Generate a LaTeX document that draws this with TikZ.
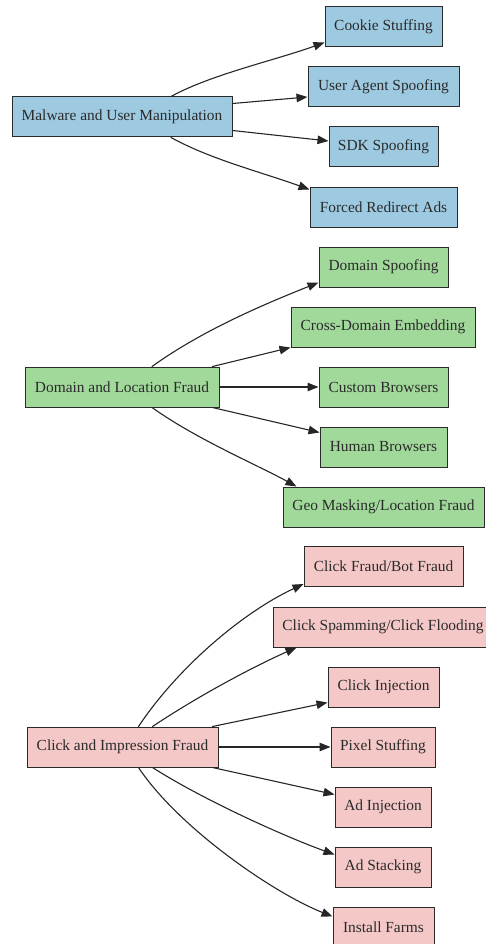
\documentclass[tikz,border=0pt]{standalone}
\usepackage{fontspec}
\setmainfont{Liberation Serif}
\usepackage{xcolor}
\usetikzlibrary{arrows.meta}
\tikzset{
  fraudarrow/.style={-{Triangle[length=11pt,width=8.5pt]}, line width=1.1pt,
    draw=black!85, line cap=round},
}
\definecolor{FraudBlue}{HTML}{9ECAE1}
\definecolor{FraudGreen}{HTML}{A1D99B}
\definecolor{FraudPink}{HTML}{F5C8C8}
\definecolor{FraudInk}{HTML}{2A2A2A}

\begin{document}
\begin{tikzpicture}[
  x=1pt, y=-1pt,
  font=\fontsize{15.4}{18}\selectfont,
  cell/.style={draw=FraudInk, line width=1pt, text=FraudInk, minimum height=40pt, inner sep=0pt}
]
\useasboundingbox (0,0) rectangle (485,944);

% Malware and user manipulation
\node[cell, fill=FraudBlue, minimum width=220pt] at (122,117) (mal) {Malware and User Manipulation};
\node[cell, fill=FraudBlue, minimum width=117pt] at (383.5,27) (cookie) {Cookie Stuffing};
\node[cell, fill=FraudBlue, minimum width=151pt] at (383.5,87) (uas) {User Agent Spoofing};
\node[cell, fill=FraudBlue, minimum width=109pt] at (383.5,147) (sdk) {SDK Spoofing};
\node[cell, fill=FraudBlue, minimum width=147pt] at (383.5,207) (redir) {Forced Redirect Ads};

% Domain and location fraud
\node[cell, fill=FraudGreen, minimum width=194pt] at (122,387) (dom) {Domain and Location Fraud};
\node[cell, fill=FraudGreen, minimum width=129pt] at (383.5,267) (dspoof) {Domain Spoofing};
\node[cell, fill=FraudGreen, minimum width=184pt] at (383,327) (xembed) {Cross-Domain Embedding};
\node[cell, fill=FraudGreen, minimum width=129pt] at (383.5,387) (cbrow) {Custom Browsers};
\node[cell, fill=FraudGreen, minimum width=127pt] at (383.5,447) (hbrow) {Human Browsers};
\node[cell, fill=FraudGreen, minimum width=201pt] at (383.5,507) (geo) {Geo Masking/Location Fraud};

% Click and impression fraud
\node[cell, fill=FraudPink, minimum width=191pt] at (122.5,747) (click) {Click and Impression Fraud};
\node[cell, fill=FraudPink, minimum width=159pt] at (383.5,566.5) (bot) {Click Fraud/Bot Fraud};
\node[cell, fill=FraudPink, minimum width=220pt] at (383,627) (spam) {Click Spamming/Click Flooding};
\node[cell, fill=FraudPink, minimum width=111pt] at (383.5,687) (cinj) {Click Injection};
\node[cell, fill=FraudPink, minimum width=104pt] at (383,747) (pixel) {Pixel Stuffing};
\node[cell, fill=FraudPink, minimum width=96pt] at (383,807) (adinj) {Ad Injection};
\node[cell, fill=FraudPink, minimum width=96pt] at (383,867) (stack) {Ad Stacking};
\node[cell, fill=FraudPink, minimum width=101pt] at (383.5,927) (farms) {Install Farms};

% first group
\draw[fraudarrow] ([xshift=49pt]mal.north) .. controls +(40,-22) and +(-50,18) .. ([yshift=5pt]cookie.south west);
\draw[fraudarrow] ([yshift=-7pt]mal.north east) -- ([yshift=-10pt]uas.west);
\draw[fraudarrow] ([yshift=7pt]mal.south east) -- ([yshift=6pt]sdk.west);
\draw[fraudarrow] ([xshift=49pt]mal.south) .. controls +(40,22) and +(-50,-18) .. ([yshift=-3pt]redir.north west);

% second group
\draw[fraudarrow] ([xshift=30pt]dom.north) .. controls +(50,-36) and +(-55,22) .. ([yshift=5pt]dspoof.south west);
\draw[fraudarrow] ([xshift=-7pt]dom.north east) -- (xembed.south west);
\draw[fraudarrow] (dom.east) -- (cbrow.west);
\draw[fraudarrow] ([xshift=-7pt]dom.south east) -- ([yshift=-6pt]hbrow.north west);
\draw[fraudarrow] ([xshift=30pt]dom.south) .. controls +(45,32) and +(-40,-22) .. ([xshift=14pt]geo.north west);

% third group
\draw[fraudarrow] ([xshift=16pt]click.north) .. controls +(40,-60) and +(-60,28) .. ([yshift=3pt]bot.south west);
\draw[fraudarrow] ([xshift=30pt]click.north) .. controls +(45,-30) and +(-45,20) .. ([xshift=24pt]spam.south west);
\draw[fraudarrow] ([xshift=-6pt]click.north east) -- ([yshift=5pt]cinj.south west);
\draw[fraudarrow] (click.east) -- (pixel.west);
\draw[fraudarrow] ([xshift=-6pt]click.south east) -- ([yshift=-8pt]adinj.north west);
\draw[fraudarrow] ([xshift=30pt]click.south) .. controls +(50,32) and +(-50,-18) .. ([yshift=-8pt]stack.north west);
\draw[fraudarrow] ([xshift=16pt]click.south) .. controls +(40,60) and +(-60,-24) .. ([yshift=-10pt]farms.north west);
\end{tikzpicture}
\end{document}
